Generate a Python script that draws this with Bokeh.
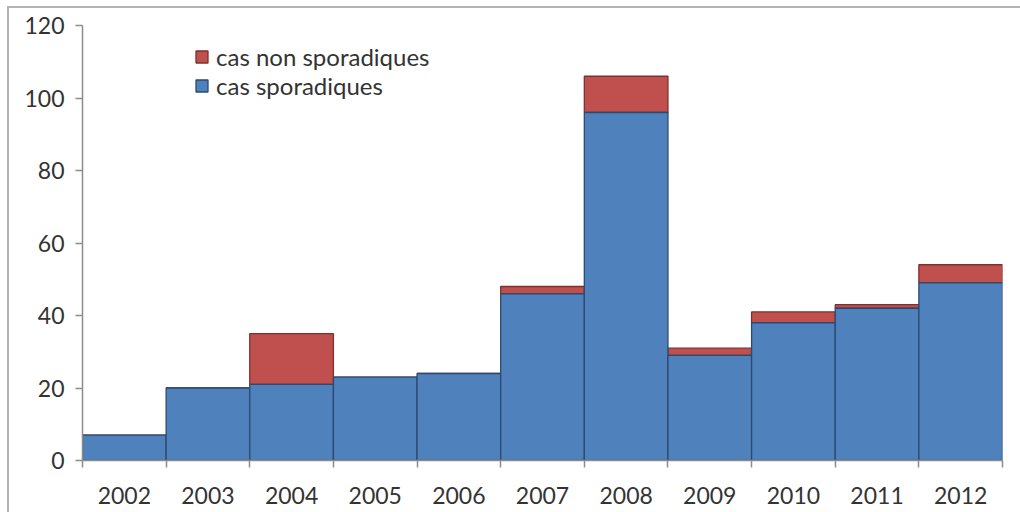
from bokeh.plotting import figure
from bokeh.models import (ColumnDataSource, FixedTicker, Legend, LegendItem,
                          Range1d)
from bokeh.embed import file_html
from bokeh.resources import INLINE

years = [2002, 2003, 2004, 2005, 2006, 2007, 2008, 2009, 2010, 2011, 2012]
sporadiques = [7, 20, 21, 23, 24, 46, 96, 29, 38, 42, 49]
non_sporadiques = [0, 0, 14, 0, 0, 2, 10, 2, 3, 1, 5]
y_ticks = [0, 20, 40, 60, 80, 100, 120]

totals = [a + b for a, b in zip(sporadiques, non_sporadiques)]
src = ColumnDataSource(dict(year=years, spor=sporadiques, non=non_sporadiques,
                            total=totals))

FONT = "Lato"
p = figure(width=1020, height=512, output_backend="svg", toolbar_location=None,
           x_range=Range1d(years[0] - 0.5, years[-1] + 0.5),
           y_range=Range1d(0, 120),
           min_border_left=82, min_border_right=18,
           min_border_top=25, min_border_bottom=52)
p.outline_line_color = None
p.xgrid.visible = False
p.ygrid.visible = False
p.border_fill_alpha = 0
p.styles = {"background": "linear-gradient(#b4b4b4,#b4b4b4) 7px 6px / 100% 2px no-repeat, "
                          "linear-gradient(#b4b4b4,#b4b4b4) 7px 6px / 2px 100% no-repeat, white"}

# red (non sporadic) on top of blue; drawn first so blue outline covers shared edge
r_non = p.vbar(x="year", width=1.0, bottom="spor", top="total", source=src,
               fill_color="#C0504D", line_color="#7E302E", line_width=1.3)
r_spor = p.vbar(x="year", width=1.0, bottom=0, top="spor", source=src,
                fill_color="#4F81BD", line_color="#2B4A70", line_width=1.3)

# axes
bounds = [y - 0.5 for y in years] + [years[-1] + 0.5]
xa = p.xaxis[0]
xa.ticker = FixedTicker(ticks=years, minor_ticks=bounds)
xa.major_tick_line_color = None
xa.major_tick_out = 0
xa.major_tick_in = 0
xa.minor_tick_out = 7
xa.minor_tick_in = 0
xa.minor_tick_line_color = "#8c8c8c"
xa.minor_tick_line_width = 1.5
xa.axis_line_color = "#8c8c8c"
xa.axis_line_width = 1.5
xa.major_label_standoff = 19
xa.major_label_text_font = FONT
xa.major_label_text_font_size = "23px"
xa.major_label_text_color = "#333333"

ya = p.yaxis[0]
ya.ticker = FixedTicker(ticks=y_ticks)
ya.minor_tick_line_color = None
ya.major_tick_out = 7
ya.major_tick_in = 0
ya.major_tick_line_color = "#8c8c8c"
ya.major_tick_line_width = 1.5
ya.axis_line_color = "#8c8c8c"
ya.axis_line_width = 1.5
ya.major_label_standoff = 11
ya.major_label_text_font = FONT
ya.major_label_text_font_size = "23px"
ya.major_label_text_color = "#333333"

legend = Legend(items=[LegendItem(label="cas non sporadiques", renderers=[r_non]),
                       LegendItem(label="cas sporadiques", renderers=[r_spor])],
                location=(112, 360), padding=0, margin=0, spacing=0,
                glyph_width=15, glyph_height=15, label_standoff=7,
                label_text_font=FONT, label_text_font_size="24px",
                label_text_color="#333333",
                border_line_color=None, background_fill_alpha=0)
p.add_layout(legend)

open("out.html", "w").write(file_html(p, INLINE))
